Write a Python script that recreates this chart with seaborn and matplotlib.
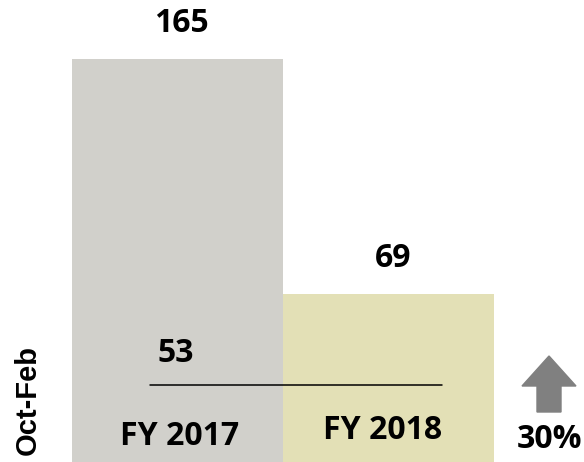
import matplotlib
matplotlib.use('Agg')
import matplotlib.pyplot as plt
from matplotlib.patches import FancyArrow
import pandas as pd
import seaborn as sns

# chart values
years = ['FY 2017', 'FY 2018']
counts = [165, 69]
bar_colors = ['#D1D0CB', '#E3E0B6']
mid_label = '53'
mid_line_level = 31.5
change_label = '30%'
period_label = 'Oct-Feb'

df = pd.DataFrame({'year': years, 'count': counts})

sns.set_style('white')
plt.rcParams['font.family'] = ['Open Sans', 'DejaVu Sans']

fig = plt.figure(figsize=(5.84, 4.62), dpi=100)
ax = fig.add_axes([0, 0, 1, 1])

sns.barplot(data=df, x='year', y='count', hue='year', palette=bar_colors,
            width=1.0, legend=False, ax=ax, saturation=1, linewidth=0)

ax.set_xlim(-0.841, 1.927)
ax.set_ylim(0, 189.2)
ax.axis('off')

fs = 23

# value labels above bars
for i, v in enumerate(counts):
    ax.text(i + 0.02, v + 14.5, str(v), ha='center', va='center',
            fontsize=fs, fontweight='bold', color='black')

# category labels inside the bars
ax.text(0.01, 10.5, years[0], ha='center', va='center', fontsize=fs, fontweight='bold', color='black')
ax.text(0.97, 13, years[1], ha='center', va='center', fontsize=fs, fontweight='bold', color='black')

# line with the 53 label
ax.plot([-0.13, 1.254], [mid_line_level, mid_line_level], color='black', lw=1.1)
ax.text(-0.01, 44.6, mid_label, ha='center', va='center', fontsize=fs, fontweight='bold', color='black')

# rotated period label
fig.text(28 / 584, 1 - 400 / 462, period_label, rotation=90, ha='center', va='center',
         fontsize=21, fontweight='bold', color='black', family=['Liberation Sans', 'DejaVu Sans'])

# up arrow and change label
arrow = FancyArrow(5.49, 0.50, 0, 0.56, width=0.24, head_width=0.54, head_length=0.30,
                   length_includes_head=True, color='#808080',
                   transform=fig.dpi_scale_trans)
fig.add_artist(arrow)
fig.text(549 / 584, 1 - 439 / 462, change_label, ha='center', va='center',
         fontsize=fs, fontweight='bold', color='black')

fig.savefig('out.png', dpi=100)
